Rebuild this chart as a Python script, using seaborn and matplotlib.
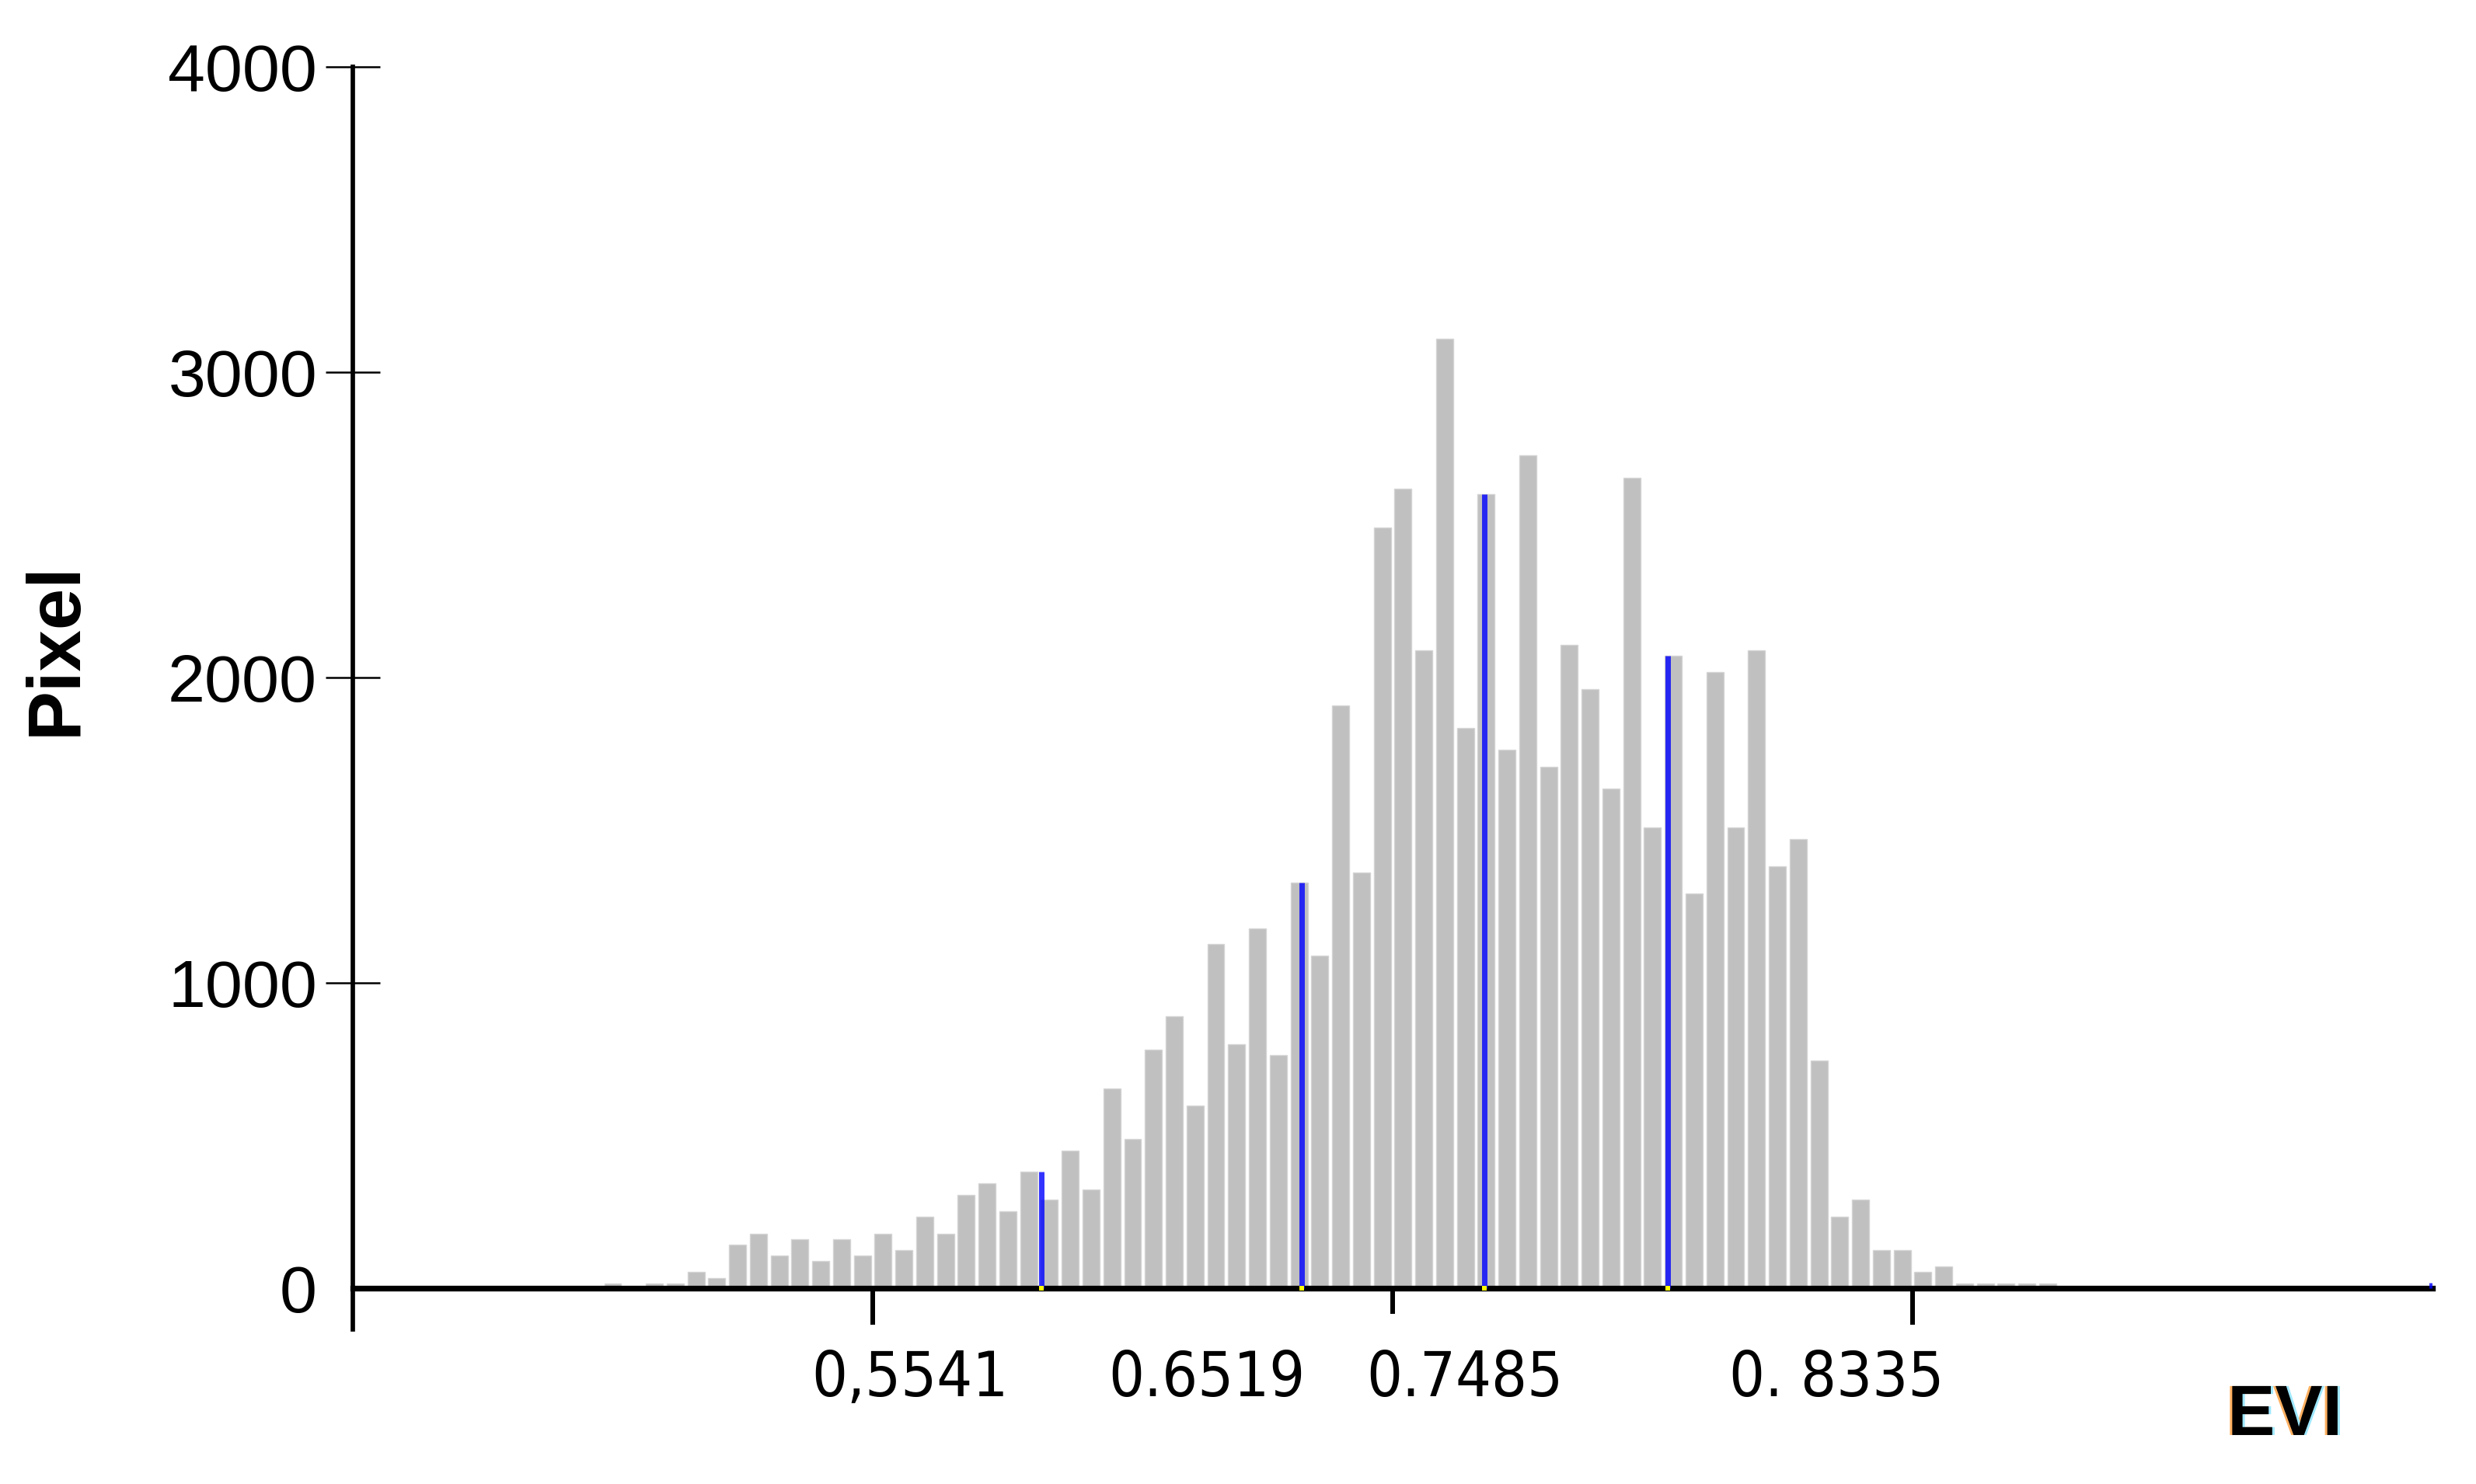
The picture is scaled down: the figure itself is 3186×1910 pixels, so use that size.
import numpy as np
import pandas as pd
import matplotlib
matplotlib.use('Agg')
import matplotlib.pyplot as plt
import matplotlib.patheffects as pe
from matplotlib import font_manager as fm
import seaborn as sns

# EVI histogram: 70 bins of width 0.008 starting at 0.296
bin_start = 0.296
bin_width = 0.008
pixel_counts = [
    15, 0, 15, 15, 52, 33, 143, 179, 106, 160,
    89, 160, 106, 179, 125, 235, 179, 306, 343, 252,
    381, 289, 451, 324, 653, 489, 780, 890, 599, 1127,
    799, 1179, 763, 1327, 1088, 1907, 1362, 2490, 2617, 2090,
    3110, 1835, 2600, 1762, 2727, 1708, 2107, 1961, 1637, 2654,
    1508, 2072, 1292, 2018, 1508, 2090, 1381, 1470, 745, 235,
    289, 125, 125, 52, 71, 15, 15, 15, 15, 15,
]

# blue class-break lines (last one is the max marker at the axis end)
break_evi = [0.4649, 0.5650, 0.6353, 0.7058, 0.9997]
break_height = [381, 1327, 2600, 2072, 18]

# texts printed under the x axis
evi_labels = ['0,5541', '0.6519', '0.7485', '0. 8335']
y_ticks = [0, 1000, 2000, 3000, 4000]

centers = np.round(bin_start + bin_width * (np.arange(len(pixel_counts)) + 0.5), 4)
df = pd.DataFrame({'EVI': centers, 'Pixel': pixel_counts})

sns.set_theme(style='white')
plt.rcParams['font.family'] = ['Liberation Sans', 'DejaVu Sans']

fig = plt.figure(figsize=(31.86, 19.10), dpi=100)
ax = fig.add_axes([0.1425, 0.1042, 0.8399, 0.8508])

sns.barplot(data=df, x='EVI', y='Pixel', native_scale=True, width=0.82,
            color='#c0c0c0', saturation=1, edgecolor='#d4d4d4', linewidth=1,
            errorbar=None, ax=ax)

ax.vlines(break_evi, 0, break_height, colors='#0000ff', alpha=0.8,
          linewidth=5, zorder=3)
ax.scatter(break_evi[:4], [0] * 4, marker='s', s=22, color='#ffff00',
           linewidths=0, zorder=5, clip_on=False)

ax.set_xlim(0.2, 1.0)
ax.set_ylim(-135, 4000)
ax.set_xlabel('')
ax.set_ylabel('')

for side in ['top', 'right']:
    ax.spines[side].set_visible(False)
ax.spines['bottom'].set_position(('data', 0))
ax.spines['bottom'].set_linewidth(5.3)
ax.spines['bottom'].set_color('black')
ax.spines['left'].set_linewidth(4.1)
ax.spines['left'].set_color('black')

# x ticks without labels; labels are placed as loose text below
ax.set_xticks([0.4, 0.8])
ax.set_xticks([0.6], minor=True)
ax.tick_params(axis='x', which='major', direction='out', length=34, width=4.3,
               color='black', bottom=True, labelbottom=False)
ax.tick_params(axis='x', which='minor', direction='out', length=24, width=4.3,
               color='black', bottom=True, labelbottom=False)

ax.set_yticks(y_ticks)
ax.set_yticklabels([str(v) for v in y_ticks])
ax.tick_params(axis='y', direction='inout', length=51, width=1.8,
               color='black', left=True, labelsize=62, pad=7.6,
               labelcolor='black')
ax.yaxis.get_major_ticks()[0].tick1line.set_visible(False)

# narrow font for the EVI value labels
font_names = {f.name for f in fm.fontManager.ttflist}
if 'Liberation Sans Narrow' in font_names:
    lab_kw = dict(family='Liberation Sans Narrow', fontsize=72)
elif any(f.name == 'DejaVu Sans' and f.stretch == 'condensed'
         for f in fm.fontManager.ttflist):
    lab_kw = dict(family='DejaVu Sans', stretch='condensed', fontsize=58)
else:
    lab_kw = dict(family='Liberation Sans', fontsize=52)

label_x = [0.4143, 0.5286, 0.6278, 0.7707]
for x, t in zip(label_x, evi_labels):
    ax.text(x, -355, t, ha='center', va='baseline', color='black',
            clip_on=False, **lab_kw)

fig.text(0.0229, 0.5628, 'Pixel', rotation=90, fontsize=69,
         fontweight='bold', ha='center', va='center', color='black')
fig.text(0.9228, 0.033, 'EVI', fontsize=66, fontweight='bold',
         ha='center', va='baseline', color='black',
         path_effects=[pe.SimplePatchShadow(offset=(-2.2, 0), shadow_rgbFace='#ffb060', alpha=1),
                       pe.SimplePatchShadow(offset=(2.2, 0), shadow_rgbFace='#9fe8ff', alpha=1),
                       pe.Normal()])

fig.savefig('out.png', dpi=100)
